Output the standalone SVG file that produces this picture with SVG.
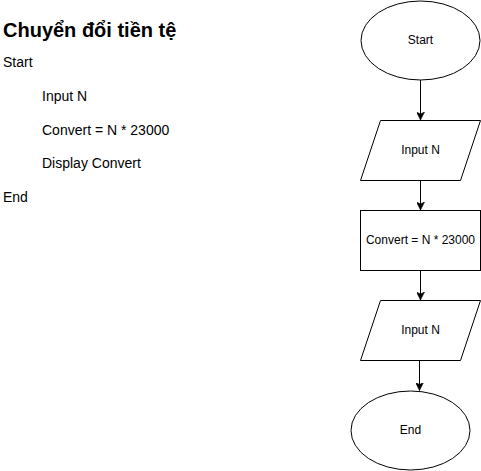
<svg xmlns="http://www.w3.org/2000/svg" width="481" height="471" viewBox="0 0 481 471">
<defs>
<style>
.shape{fill:#fff;stroke:#000;stroke-width:1}
.lbl{font-family:"Liberation Sans",Arial,sans-serif;font-size:12px;fill:#000;text-anchor:middle}
.txt{font-family:"Liberation Sans",Arial,sans-serif;font-size:14px;fill:#000}
.title{font-family:"Liberation Sans",Arial,sans-serif;font-size:20px;font-weight:bold;fill:#000}
.edge{fill:none;stroke:#000;stroke-width:1}
</style>
<marker id="arr" markerUnits="userSpaceOnUse" markerWidth="8" markerHeight="8" refX="7" refY="3.5" orient="auto" viewBox="0 0 7 7">
<path d="M0,0 L7,3.5 L0,7 L1.75,3.5 Z" fill="#000" stroke="#000" stroke-width="0.5"/>
</marker>
</defs>
<rect width="481" height="471" fill="#fff"/>
<g id="text-block">
<text class="title" x="3" y="37">Chuyển đổi tiền tệ</text>
<text class="txt" x="3" y="67">Start</text>
<text class="txt" x="42" y="100.5">Input N</text>
<text class="txt" x="42" y="134.5">Convert = N * 23000</text>
<text class="txt" x="42" y="168">Display Convert</text>
<text class="txt" x="3" y="201.5">End</text>
</g>
<g id="connectors">
<path class="edge" d="M420.5,80 L420.5,120" marker-end="url(#arr)"/>
<path class="edge" d="M420.5,180 L420.5,210" marker-end="url(#arr)"/>
<path class="edge" d="M420.5,270 L420.5,300" marker-end="url(#arr)"/>
<path class="edge" d="M419.5,360 L419.5,390.5" marker-end="url(#arr)"/>
</g>
<g id="start">
<ellipse class="shape" cx="420.5" cy="40.5" rx="59.5" ry="39.5"/>
<text class="lbl" x="420.5" y="43.5">Start</text>
</g>
<g id="input1">
<polygon class="shape" points="380.5,120.5 480.5,120.5 460.5,180.5 360.5,180.5"/>
<text class="lbl" x="420.5" y="153.5">Input N</text>
</g>
<g id="convert">
<rect class="shape" x="360.5" y="210.5" width="120" height="60"/>
<text class="lbl" x="420.5" y="243.5">Convert = N * 23000</text>
</g>
<g id="input2">
<polygon class="shape" points="380.5,300.5 480.5,300.5 460.5,360.5 360.5,360.5"/>
<text class="lbl" x="420.5" y="333.5">Input N</text>
</g>
<g id="end">
<ellipse class="shape" cx="410.5" cy="430.5" rx="59.5" ry="39.5"/>
<text class="lbl" x="410.5" y="433.5">End</text>
</g>
</svg>
